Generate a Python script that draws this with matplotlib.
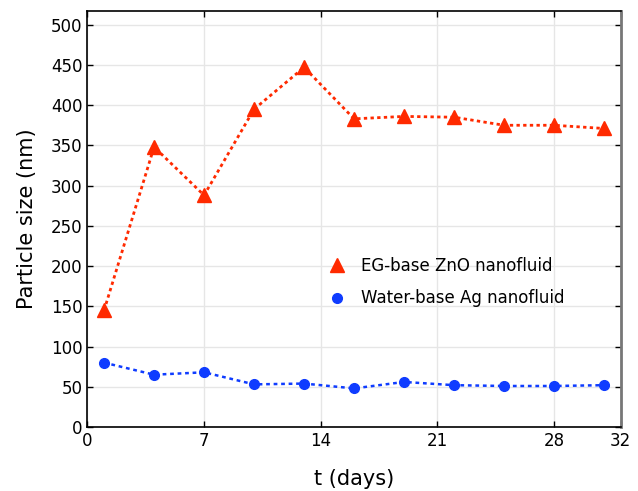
import matplotlib
matplotlib.use("Agg")
import matplotlib.pyplot as plt

days = [1, 4, 7, 10, 13, 16, 19, 22, 25, 28, 31]
zno_size = [145, 348, 288, 395, 447, 383, 386, 385, 375, 375, 371]
ag_size = [80, 65, 68, 53, 54, 48, 56, 52, 51, 51, 52]
xticks = [0, 7, 14, 21, 28, 32]
yticks = [0, 50, 100, 150, 200, 250, 300, 350, 400, 450, 500]
series_labels = ["EG-base ZnO nanofluid", "Water-base Ag nanofluid"]

plt.rcParams['font.family'] = ['DejaVu Sans']

fig = plt.figure(figsize=(6.38, 4.91), dpi=100)
ax = fig.add_axes([0.137, 0.1303, 0.836, 0.8473])

red = '#ff2a00'
blue = '#0f3cff'
ax.plot(days, zno_size, linestyle=(0, (1.2, 1.2)), lw=2.0, color=red,
        marker='^', markersize=9.5, label=series_labels[0])
ax.plot(days, ag_size, linestyle=(0, (1.5, 1.5)), lw=1.8, color=blue,
        marker='o', markersize=7, label=series_labels[1])

ax.set_xlim(0, 32)
ax.set_ylim(0, 517)
ax.set_xticks(xticks)
ax.set_yticks(yticks)
ax.grid(True, color='#e6e6e6', lw=1)
ax.set_axisbelow(True)
ax.tick_params(direction='in', length=4, width=1, labelsize=12,
               top=True, right=True, colors='black')
for s in ['left', 'top', 'bottom']:
    ax.spines[s].set_linewidth(1.2)
ax.spines['right'].set_color('#777777')
ax.spines['right'].set_linewidth(2)

ax.set_xlabel('t (days)', fontsize=15, labelpad=14)
ax.set_ylabel('Particle size (nm)', fontsize=15, labelpad=10)

leg = ax.legend(loc='upper left', bbox_to_anchor=(0.425, 0.444), frameon=False,
                fontsize=12, handlelength=1.0, handletextpad=0.9,
                labelspacing=0.85, numpoints=1)
for h in leg.legend_handles:
    h.set_linestyle('None')

fig.savefig('out.png', dpi=100)
